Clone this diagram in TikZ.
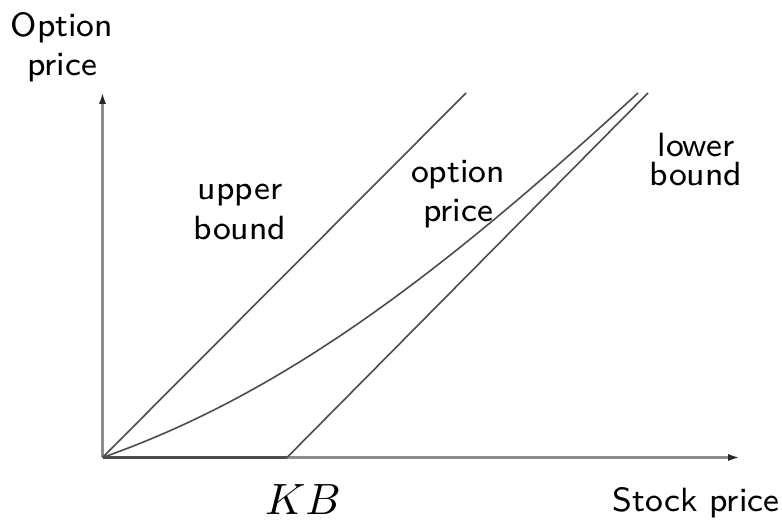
\documentclass[tikz,border=0pt]{standalone}
\usetikzlibrary{arrows.meta}
\begin{document}
\begin{tikzpicture}[x=0.25pt,y=-0.25pt,
  axis/.style={draw=black!45, line width=0.6pt, -{Latex[length=3pt,width=1.8pt,color=black!85]}},
  curve/.style={draw=black!70, line width=0.4pt},
  lbl/.style={font=\fontsize{8.4}{9.8}\selectfont\sffamily, inner sep=0pt, align=center, text=black}]
\useasboundingbox (0,0) rectangle (782,523);
\coordinate (O) at (102.5,457.5);
\coordinate (ytop) at (102.5,92);
\coordinate (xend) at (740,457.5);
\coordinate (K) at (287,457.5);
\coordinate (ub) at (466,93);
\coordinate (lb) at (648,93);
\coordinate (op) at (638,93);
\draw[axis] (O) -- (ytop);
\draw[axis] (O) -- (xend);
\draw[curve, line width=0.6pt] (O) -- (K);
\draw[curve] (O) -- (ub);
\draw[curve] (K) -- (lb);
\draw[curve] (O) .. controls (283,394) and (440,275) .. (op);
\node[lbl] (ylab) at (62,48.4) {\strut Option\\\strut price};
\node[lbl, anchor=base] (xlab) at (696,512) {Stock price};
\node[anchor=base, inner sep=0pt, font=\fontsize{10.8}{13}\selectfont, text=black] (kb) at (303,515) {$KB$};
\node[lbl] (ublab) at (240,211.7) {\strut upper\\\strut bound};
\node[lbl] (oplab) at (458,194) {\strut option\\\strut price};
\node[lbl] (lblab) at (696,163.5) {\strut lower\\[-2.6pt]\strut bound};
\end{tikzpicture}
\end{document}
